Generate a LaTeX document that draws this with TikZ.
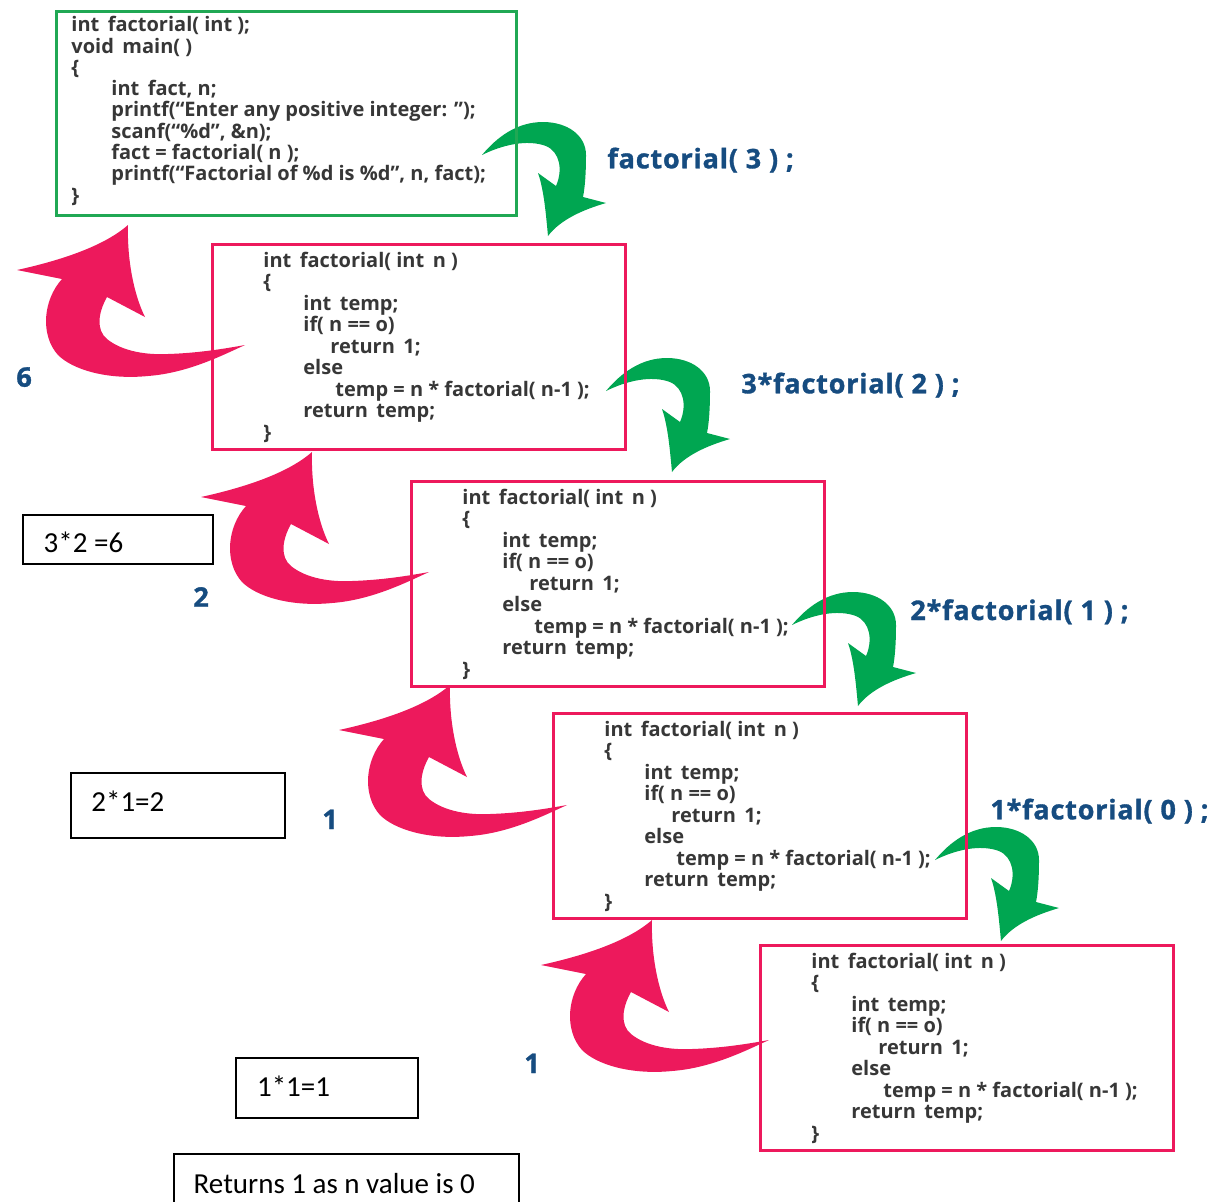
\documentclass[tikz,border=0pt]{standalone}
\usepackage{fontspec}
\setmainfont{Open Sans}
\newfontfamily\labfamily{Open Sans}[LetterSpace=3.0, BoldFeatures={FakeBold=1.2}]
\newfontfamily\calfont{Carlito}
\definecolor{pinkc}{RGB}{237,25,92}
\definecolor{greenarr}{RGB}{0,166,81}
\definecolor{greenbox}{RGB}{32,168,84}
\definecolor{bluelab}{RGB}{22,76,128}
\definecolor{codegray}{RGB}{55,55,55}
\newcommand\codefnt{\fontsize{10}{11}\selectfont\bfseries}
\newcommand\labfnt{\labfamily\fontsize{13.5}{15}\selectfont\bfseries}
\tikzset{
  codetxt/.style={anchor=base west, inner sep=0, text=codegray, font=\codefnt},
  pinkbox/.style={draw=pinkc, line width=1.5pt, anchor=north west, minimum width=206.5pt, minimum height=102.5pt, inner sep=0},
  mainbox/.style={draw=greenbox, line width=1.5pt, anchor=north west, minimum width=230pt, minimum height=102pt, inner sep=0},
  resbox/.style={draw=black, line width=1pt, anchor=north west, inner sep=0},
  restxt/.style={anchor=base west, inner sep=0, font=\calfont\fontsize{14.5}{16}\selectfont},
  calltxt/.style={anchor=base west, inner sep=0, text=bluelab, font=\labfnt},
  pinkarr/.style={fill=pinkc},
  greenarrow/.style={fill=greenarr}
}
\newcommand\pinkarrow[1]{%
  \fill[pinkarr, shift={#1}] (0,0) .. controls (-1,35) and (6,70) .. (17,92)
    -- (-21,72) .. controls (-30,88) and (-32,105) .. (-21,114)
    .. controls (-5,127) and (20,130) .. (40,129)
    .. controls (70,128) and (95,124) .. (117,120)
    .. controls (95,130) and (60,148) .. (20,151)
    .. controls (-20,155) and (-55,145) .. (-70,130)
    .. controls (-88,110) and (-85,75) .. (-66,54)
    -- (-111,45) .. controls (-70,36) and (-25,22) .. (0,0) -- cycle;}
\newcommand\greenarrowshape[1]{%
  \fill[greenarrow, shift={#1}] (0,0) .. controls (15,-18) and (35,-33) .. (61,-33)
    .. controls (85,-33) and (104,-20) .. (104,0)
    .. controls (104,18) and (103,32) .. (101,42)
    -- (124,48) .. controls (100,55) and (78,65) .. (66,81)
    .. controls (64,60) and (62,35) .. (56,18)
    -- (74,31) .. controls (81,15) and (78,-3) .. (64,-9)
    .. controls (45,-16) and (20,-10) .. (0,0) -- cycle;}
\newcommand\factbox[2]{%
  \node[pinkbox] (#1) at #2 {};
  \begin{scope}[shift={#2}]
    \node[codetxt] (#1-l1) at (52,24) {int\, factorial( int\, n )};
    \node[codetxt] (#1-l2) at (52,45.5) {\{};
    \node[codetxt] (#1-l3) at (92,67) {int\, temp;};
    \node[codetxt] (#1-l4) at (92,88.5) {if( n == o)};
    \node[codetxt] (#1-l5) at (119,110) {return\, 1;};
    \node[codetxt] (#1-l6) at (92,131.5) {else};
    \node[codetxt] (#1-l7) at (124,153) {temp = n * factorial( n-1 );};
    \node[codetxt] (#1-l8) at (92,174.5) {return\, temp;};
    \node[codetxt] (#1-l9) at (52,196) {\}};
  \end{scope}}
\begin{document}
\begin{tikzpicture}[x=0.5pt,y=-0.5pt]
\useasboundingbox (0,0) rectangle (1227,1201);
\clip (0,0) rectangle (1227,1201);
\fill[white] (0,0) rectangle (1227,1201);
% arrows (behind boxes)
\greenarrowshape{(482,155)}
\greenarrowshape{(606,391)}
\greenarrowshape{(792,625)}
\greenarrowshape{(935,860)}
\pinkarrow{(128,225)}
\pinkarrow{(312,452)}
\pinkarrow{(450,685)}
\pinkarrow{(652,920)}
% main box
\node[mainbox] (main) at (55,10) {};
\begin{scope}[shift={(55,10)}]
  \node[codetxt] (m1) at (16,21.7) {int\, factorial( int );};
  \node[codetxt] (m2) at (16,43) {void\, main( )};
  \node[codetxt] (m3) at (16,64.3) {\{};
  \node[codetxt] (m4) at (56,85.6) {int\, fact, n;};
  \node[codetxt] (m5) at (56,106.9) {printf(“Enter any positive integer: ”);};
  \node[codetxt] (m6) at (56,128.2) {scanf(“\%d”, \&n);};
  \node[codetxt] (m7) at (56,149.5) {fact = factorial( n );};
  \node[codetxt] (m8) at (56,170.8) {printf(“Factorial of \%d is \%d”, n, fact);};
  \node[codetxt] (m9) at (16,192.1) {\}};
\end{scope}
% function boxes
\factbox{f1}{(211,243)}
\factbox{f2}{(410,480)}
\factbox{f3}{(552,712)}
\factbox{f4}{(759,944)}
% call labels
\node[calltxt] (c1) at (607,168.3) {factorial( 3 ) ;};
\node[calltxt] (c2) at (741,393.3) {3*factorial( 2 ) ;};
\node[calltxt] (c3) at (910,620) {2*factorial( 1 ) ;};
\node[calltxt] (c4) at (990,819.3) {1*factorial( 0 ) ;};
% returned values
\node[calltxt] (v1) at (16,386.7) {6};
\node[calltxt] (v2) at (193,606.7) {2};
\node[calltxt] (v3) at (322,829) {1};
\node[calltxt] (v4) at (524,1073) {1};
% result boxes
\node[resbox, minimum width=95.3pt, minimum height=24.3pt] (r1) at (21.7,514) {};
\node[restxt] (r1t) at (43.3,552.3) {3*2 =6};
\node[resbox, minimum width=107pt, minimum height=32.5pt] (r2) at (70,772) {};
\node[restxt] (r2t) at (91,811) {2*1=2};
\node[resbox, minimum width=91.2pt, minimum height=29.7pt] (r3) at (235,1057.3) {};
\node[restxt] (r3t) at (256.7,1096.7) {1*1=1};
\node[resbox, minimum width=172.5pt, minimum height=40pt] (r4) at (172.7,1153.3) {};
\node[restxt] (r4t) at (193.3,1193) {Returns 1 as n value is 0};
\end{tikzpicture}
\end{document}
